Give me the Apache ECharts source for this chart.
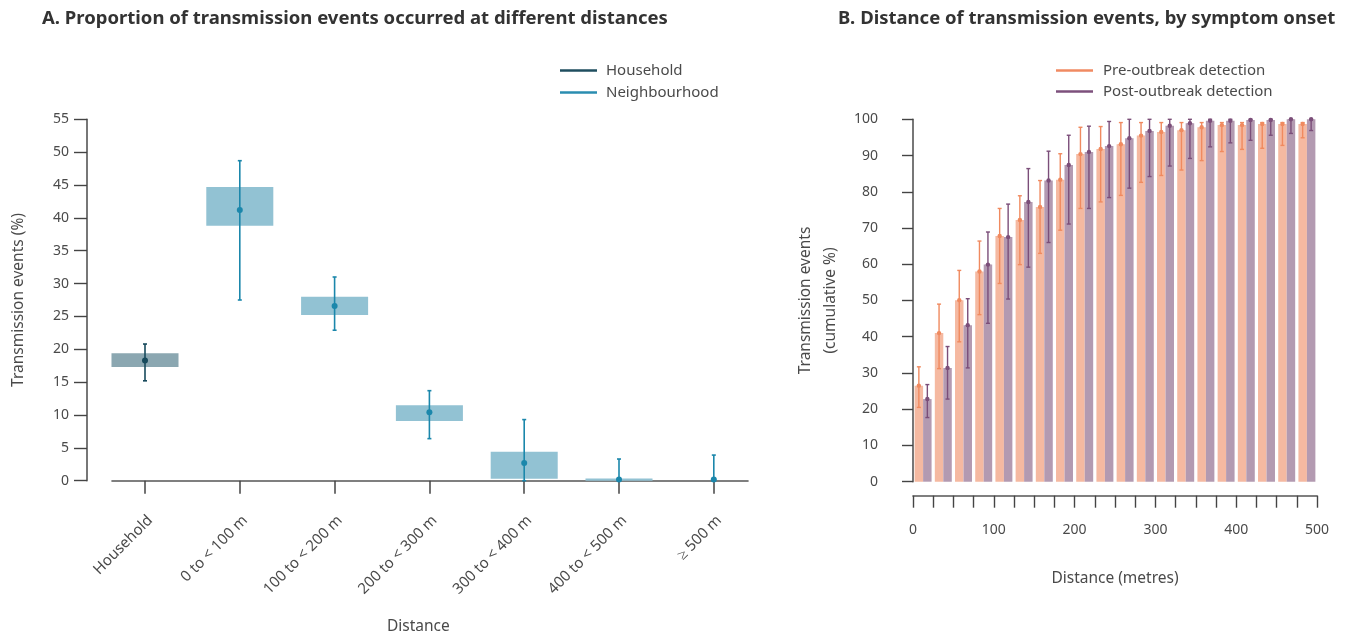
<!DOCTYPE html>
<html>
<head>
<meta charset="utf-8">
<script src="https://cdn.jsdelivr.net/npm/echarts@6/dist/echarts.min.js"></script>
<style>html,body{margin:0;padding:0;background:#fff}#c{width:1354px;height:640px}</style>
</head>
<body>
<div id="c"></div>
<script>
// ---------- Panel A data ----------
var catsA = ['Household', '0 to < 100 m', '100 to < 200 m', '200 to < 300 m', '300 to < 400 m', '400 to < 500 m', '\u2265 500 m'];
var pointA = [18.3, 41.2, 26.6, 10.4, 2.7, 0.2, 0.2];
var boxLowA = [17.3, 38.8, 25.2, 9.1, 0.3, 0.0, null];
var boxHighA = [19.4, 44.7, 28.0, 11.5, 4.4, 0.35, null];
var errLowA = [15.2, 27.5, 22.9, 6.4, 0.0, 0.0, 0.0];
var errHighA = [20.8, 48.7, 31.0, 13.7, 9.3, 3.3, 3.9];
var ticksA = [0, 5, 10, 15, 20, 25, 30, 35, 40, 45, 50, 55];

// ---------- Panel B data ----------
var binsB = ['0-25', '25-50', '50-75', '75-100', '100-125', '125-150', '150-175', '175-200', '200-225', '225-250',
  '250-275', '275-300', '300-325', '325-350', '350-375', '375-400', '400-425', '425-450', '450-475', '475-500'];
var preB = [26.5, 41.0, 50.1, 58.0, 67.8, 72.2, 75.8, 83.3, 90.4, 91.8, 93.1, 95.5, 96.5, 97.0, 97.8, 98.4, 98.4, 98.7, 98.7, 98.7];
var preLowB = [20.5, 31.2, 38.6, 46.1, 54.7, 59.9, 63.0, 69.4, 75.4, 77.2, 79.0, 82.6, 84.5, 86.0, 88.6, 91.1, 91.7, 92.0, 92.8, 94.9];
var preHighB = [31.7, 49.0, 58.3, 66.4, 75.4, 78.9, 83.1, 90.5, 97.8, 98.0, 99.1, 99.1, 99.1, 99.1, 99.1, 99.1, 99.1, 99.1, 99.1, 99.1];
var postB = [22.8, 31.4, 43.2, 59.9, 67.5, 77.2, 83.1, 87.4, 91.0, 92.6, 94.8, 96.8, 98.2, 98.9, 99.6, 99.6, 99.8, 99.8, 100, 100];
var postLowB = [17.7, 22.8, 31.4, 43.7, 50.4, 59.2, 66.0, 71.1, 75.4, 78.4, 81.0, 84.2, 87.1, 89.2, 92.4, 93.5, 94.2, 95.6, 96.1, 96.9];
var postHighB = [26.8, 37.3, 50.5, 68.9, 76.6, 86.4, 91.2, 95.6, 98.1, 99.4, 100, 100, 100, 100, 100, 100, 100, 100, 100, 100];
var xTickLabelsB = [0, 100, 200, 300, 400, 500];

var FONT = 'Noto Sans';
var TXT = '#4a4a4a';
var AX = '#555';

function rowsA(from, to) {
  var r = [];
  for (var i = from; i <= to; i++) {
    r.push([i, pointA[i], boxLowA[i] == null ? '-' : boxLowA[i], boxHighA[i] == null ? '-' : boxHighA[i], errLowA[i], errHighA[i]]);
  }
  return r;
}

function makeRenderA(boxColor, lineColor) {
  return function (params, api) {
    var idx = api.value(0);
    var band = api.size([1, 0])[0];
    var pt = api.coord([idx, api.value(1)]);
    var cx = pt[0];
    var children = [];
    var bl = api.value(2), bh = api.value(3);
    if (!isNaN(bl) && !isNaN(bh)) {
      var yl = api.coord([idx, bl])[1];
      var yh = api.coord([idx, bh])[1];
      var w = band * 0.707;
      children.push({type: 'rect', shape: {x: cx - w / 2, y: yh, width: w, height: Math.max(yl - yh, 1)}, style: {fill: boxColor}});
    }
    var el = api.coord([idx, api.value(4)])[1];
    var eh = api.coord([idx, api.value(5)])[1];
    var ls = {stroke: lineColor, lineWidth: 1.6};
    children.push({type: 'line', shape: {x1: cx, y1: el, x2: cx, y2: eh}, style: ls});
    children.push({type: 'line', shape: {x1: cx - 2, y1: el, x2: cx + 2, y2: el}, style: ls});
    children.push({type: 'line', shape: {x1: cx - 2, y1: eh, x2: cx + 2, y2: eh}, style: ls});
    children.push({type: 'circle', shape: {cx: cx, cy: pt[1], r: 3}, style: {fill: lineColor}});
    return {type: 'group', children: children};
  };
}

function rowsB(vals, lo, hi) {
  var r = [];
  for (var i = 0; i < vals.length; i++) r.push([i, vals[i], lo[i], hi[i]]);
  return r;
}

function makeRenderB(side, color) {
  return function (params, api) {
    var idx = api.value(0);
    var band = api.size([1, 0])[0];
    var c = api.coord([idx, api.value(1)]);
    var cx = c[0] + side * band * 0.21;
    var yl = api.coord([idx, api.value(2)])[1];
    var yh = api.coord([idx, api.value(3)])[1];
    var ls = {stroke: color, lineWidth: 1.4};
    return {type: 'group', children: [
      {type: 'line', shape: {x1: cx, y1: yl, x2: cx, y2: yh}, style: ls},
      {type: 'line', shape: {x1: cx - 2, y1: yl, x2: cx + 2, y2: yl}, style: ls},
      {type: 'line', shape: {x1: cx - 2, y1: yh, x2: cx + 2, y2: yh}, style: ls},
      {type: 'circle', shape: {cx: cx, cy: c[1], r: 2.2}, style: {fill: color}}
    ]};
  };
}

var chart = echarts.init(document.getElementById('c'), null, {renderer: 'canvas'});
var option = {
  backgroundColor: '#fff',
  animation: false,
  textStyle: {fontFamily: FONT},
  title: [
    {text: 'A. Proportion of transmission events occurred at different distances', left: 42, top: 9, padding: 0,
      textStyle: {fontFamily: FONT, fontSize: 18.5, fontWeight: 'bold', color: '#333'}},
    {text: 'B. Distance of transmission events, by symptom onset', left: 838, top: 9, padding: 0,
      textStyle: {fontFamily: FONT, fontSize: 18.5, fontWeight: 'bold', color: '#333'}},
    {text: 'Distance', left: 387, top: 619, padding: 0,
      textStyle: {fontFamily: FONT, fontSize: 15.5, fontWeight: 'normal', color: TXT}}
  ],
  legend: [
    {left: 555, top: 58, orient: 'vertical', itemWidth: 37, itemHeight: 2.5, icon: 'rect', itemGap: 7,
      textStyle: {fontFamily: FONT, fontSize: 15, color: TXT, padding: [0, 0, 0, 4]},
      data: [{name: 'Household', itemStyle: {color: '#1f4e5f'}}, {name: 'Neighbourhood', itemStyle: {color: '#2a8db0'}}]},
    {left: 1051, top: 58, orient: 'vertical', itemWidth: 37, itemHeight: 2.5, icon: 'rect', itemGap: 6,
      textStyle: {fontFamily: FONT, fontSize: 15, color: TXT, padding: [0, 0, 0, 5]},
      data: [{name: 'Pre-outbreak detection', itemStyle: {color: '#f08a62'}}, {name: 'Post-outbreak detection', itemStyle: {color: '#7d507c'}}]}
  ],
  grid: [
    {left: 97.6, top: 119.3, width: 663.6, height: 361.4},
    {left: 112, top: 119.3, width: 636, height: 361.4},
    {left: 913, top: 119.3, width: 404, height: 362.4}
  ],
  xAxis: [
    {type: 'category', gridIndex: 0, position: 'bottom', data: catsA, offset: 15,
      axisLine: {show: false},
      axisTick: {show: true, alignWithLabel: true, length: 13, lineStyle: {color: '#444', width: 1.5}},
      axisLabel: {rotate: 45, margin: 17, fontSize: 15, color: TXT, fontFamily: FONT, interval: 0, verticalAlign: 'top'},
      splitLine: {show: false}},
    {type: 'value', gridIndex: 1, position: 'bottom', min: 0, max: 1, offset: 15,
      axisLine: {show: true, lineStyle: {color: AX, width: 1.6}},
      axisTick: {show: false}, axisLabel: {show: false}, splitLine: {show: false}},
    {type: 'category', gridIndex: 2, position: 'bottom', data: binsB, show: false},
    {type: 'value', gridIndex: 2, position: 'bottom', min: 0, max: 500, interval: 25, offset: 14,
      name: 'Distance (metres)', nameLocation: 'middle', nameGap: 75,
      nameTextStyle: {fontFamily: FONT, fontSize: 15.5, color: TXT},
      axisLine: {show: true, lineStyle: {color: AX, width: 1.6}},
      axisTick: {show: true, length: 12, lineStyle: {color: '#444', width: 1.4}},
      axisLabel: {margin: 27, fontSize: 14, color: TXT, fontFamily: FONT, showMinLabel: true, showMaxLabel: true,
        formatter: function (v) { return xTickLabelsB.indexOf(v) >= 0 ? String(v) : ''; }},
      splitLine: {show: false}}
  ],
  yAxis: [
    {type: 'value', gridIndex: 0, min: ticksA[0], max: ticksA[ticksA.length - 1], interval: 5, offset: 10.6,
      name: 'Transmission events (%)', nameLocation: 'middle', nameGap: 60,
      nameTextStyle: {fontFamily: FONT, fontSize: 15.5, color: TXT},
      axisLine: {show: true, lineStyle: {color: AX, width: 1.6}},
      axisTick: {show: true, length: 13, lineStyle: {color: '#444', width: 1.4}},
      axisLabel: {margin: 18, fontSize: 14, color: TXT, fontFamily: FONT},
      splitLine: {show: false}},
    {type: 'value', gridIndex: 1, min: 0, max: 1, show: false},
    {type: 'value', gridIndex: 2, min: 0, max: 100, interval: 10, offset: 16,
      name: 'Transmission events\n(cumulative %)', nameLocation: 'middle', nameGap: 54,
      nameTextStyle: {fontFamily: FONT, fontSize: 15.5, color: TXT, lineHeight: 25},
      axisLine: {show: true, lineStyle: {color: AX, width: 1.6}},
      axisTick: {show: true, length: 11, lineStyle: {color: '#444', width: 1.4}},
      axisLabel: {margin: 19, fontSize: 14, color: TXT, fontFamily: FONT},
      splitLine: {show: false}}
  ],
  series: [
    {name: 'Household', type: 'custom', xAxisIndex: 0, yAxisIndex: 0, clip: false,
      itemStyle: {color: '#1f4e5f'},
      encode: {x: 0, y: [1, 2, 3, 4, 5]},
      renderItem: makeRenderA('#8ba7b1', '#174a5c'), data: rowsA(0, 0)},
    {name: 'Neighbourhood', type: 'custom', xAxisIndex: 0, yAxisIndex: 0, clip: false,
      itemStyle: {color: '#2a8db0'},
      encode: {x: 0, y: [1, 2, 3, 4, 5]},
      renderItem: makeRenderA('#92c2d3', '#1b87ab'), data: rowsA(1, 6)},
    {name: 'Pre-outbreak detection', type: 'bar', xAxisIndex: 2, yAxisIndex: 2,
      barGap: '0%', barCategoryGap: '16%', itemStyle: {color: '#f5b9a1'}, data: preB},
    {name: 'Post-outbreak detection', type: 'bar', xAxisIndex: 2, yAxisIndex: 2,
      barGap: '0%', barCategoryGap: '16%', itemStyle: {color: '#b39ab1'}, data: postB},
    {name: 'preErr', type: 'custom', xAxisIndex: 2, yAxisIndex: 2, clip: false, z: 5,
      encode: {x: 0, y: [1, 2, 3]},
      renderItem: makeRenderB(-1, '#f08a5f'), data: rowsB(preB, preLowB, preHighB)},
    {name: 'postErr', type: 'custom', xAxisIndex: 2, yAxisIndex: 2, clip: false, z: 5,
      encode: {x: 0, y: [1, 2, 3]},
      renderItem: makeRenderB(1, '#7b4e79'), data: rowsB(postB, postLowB, postHighB)}
  ]
};
chart.setOption(option);
</script>
</body>
</html>
